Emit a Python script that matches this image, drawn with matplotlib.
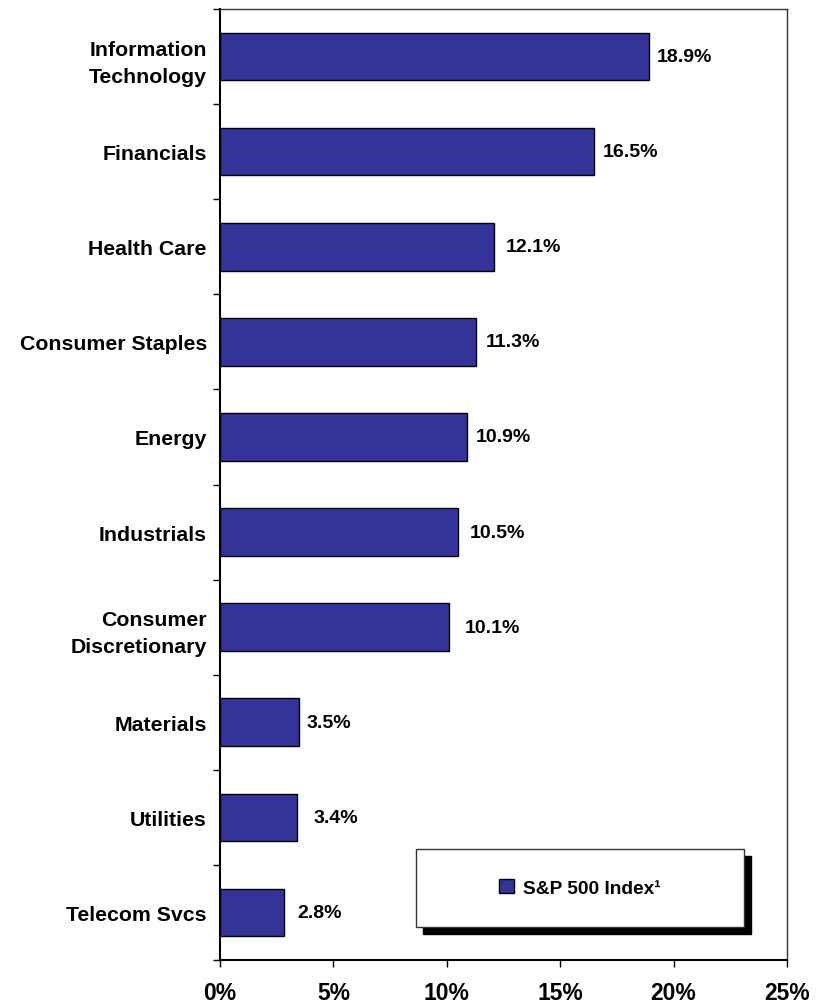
import matplotlib
matplotlib.use("Agg")
import matplotlib.pyplot as plt
from matplotlib.patches import Rectangle

plt.rcParams['font.family'] = ['Liberation Sans', 'DejaVu Sans']
plt.rcParams['font.weight'] = 'bold'

sectors = ["Information\nTechnology", "Financials", "Health Care", "Consumer Staples",
           "Energy", "Industrials", "Consumer\nDiscretionary", "Materials",
           "Utilities", "Telecom Svcs"]
weights = [18.9, 16.5, 12.1, 11.3, 10.9, 10.5, 10.1, 3.5, 3.4, 2.8]
x_ticks = [0, 5, 10, 15, 20, 25]
series_name = "S&P 500 Index\u00b9"

# label gap after each bar end, in points (as placed in the source chart)
label_pad = [6, 6.5, 8, 6.5, 6.5, 8, 11.5, 5, 11.5, 10]

fig = plt.figure(figsize=(8.26, 10.04), dpi=100)
ax = fig.add_axes([220/826, 1 - 961/1004, 567/826, 951/1004])

pos = list(range(len(sectors)))
bars = ax.barh(pos, weights, height=0.5, color="#333399", edgecolor="black",
               linewidth=1, label=series_name)

for p, w, pad in zip(pos, weights, label_pad):
    ax.annotate(f"{w:.1f}%", xy=(w, p), xytext=(pad, 0), textcoords="offset points",
                ha="left", va="center", fontsize=14, fontweight="bold")

ax.set_xlim(0, 25)
ax.set_ylim(len(sectors) - 0.5, -0.5)

ax.set_xticks(x_ticks)
ax.set_xticklabels([f"{t}%" for t in x_ticks], fontsize=16.5, fontweight="bold")
ax.tick_params(axis="x", direction="out", length=5, width=1, pad=10)

# boundary ticks between categories, labels at centres
ax.set_yticks([p - 0.5 for p in pos] + [len(sectors) - 0.5])
ax.set_yticklabels([])
ax.set_yticks(pos, minor=True)
ax.set_yticklabels(sectors, minor=True, fontsize=15.3, fontweight="bold",
                   linespacing=1.55)
ax.tick_params(axis="y", which="major", direction="out", length=5, width=1)
ax.tick_params(axis="y", which="minor", length=0, pad=9.5)

for s in ["left", "bottom"]:
    ax.spines[s].set_linewidth(1.5)
    ax.spines[s].set_color("black")
for s in ["top", "right"]:
    ax.spines[s].set_linewidth(1)
    ax.spines[s].set_color("#333333")

# legend box with solid drop shadow
bx0, by0, bw, bh = 0.3457, 0.0347, 0.5783, 0.082
ax.add_patch(Rectangle((bx0 + 0.0123, by0 - 0.0074), bw, bh, transform=ax.transAxes,
                       facecolor="black", edgecolor="black", zorder=5, clip_on=False))
ax.add_patch(Rectangle((bx0, by0), bw, bh, transform=ax.transAxes,
                       facecolor="white", edgecolor="#333333", linewidth=1,
                       zorder=6, clip_on=False))
leg = ax.legend(handles=[bars], loc="center", bbox_to_anchor=(bx0 + bw/2, by0 + bh/2),
                frameon=False, handlelength=0.75, handleheight=0.75,
                handletextpad=0.5, prop={"weight": "bold", "size": 13.8})
leg.set_zorder(7)

fig.savefig("out.png", dpi=100)
